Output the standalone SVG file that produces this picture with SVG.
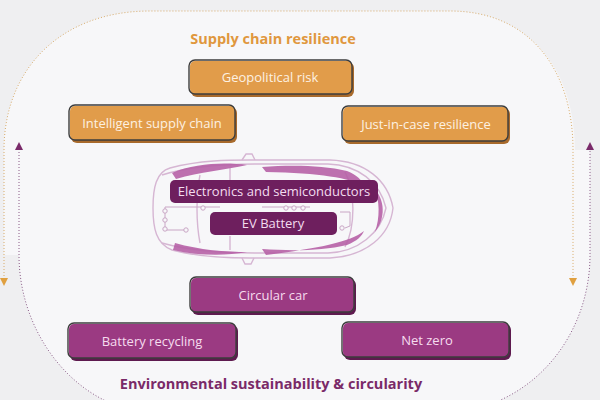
<svg xmlns="http://www.w3.org/2000/svg" width="600" height="400" viewBox="0 0 600 400">
<defs>
<style>
.title{font-family:"Open Sans","Liberation Sans",sans-serif;font-weight:700;font-size:14.5px;text-anchor:middle}
.lbl{font-family:"Open Sans","Liberation Sans",sans-serif;font-size:13px;text-anchor:middle}
.or .sh{fill:#a86a2c}
.or .fl{fill:#e19c4a}
.or text{fill:#fdf1e2}
.pu .sh{fill:#5e1a4f}
.pu .fl{fill:#9b3a82}
.pu text{fill:#f6dcef}
.ol{fill:none;stroke:#3d3d3d;stroke-width:1.4}
.dk{fill:#6e1f5e}
.dk text{fill:#f3dcef}
.car{fill:none;stroke:#d6b6d3;stroke-width:1.4}
.acc{fill:#b660a6;opacity:0.9}
.circ{fill:none;stroke:#c9a6c5;stroke-width:1}
.dot{fill:#f7f7f9;stroke:#c9a6c5;stroke-width:1}
</style>
<marker id="ao" markerWidth="8" markerHeight="8" refX="4" refY="4" orient="auto-start-reverse" markerUnits="userSpaceOnUse">
<path d="M0,0 L8,4 L0,8 Z" fill="#e0a040"/>
</marker>
<marker id="ap" markerWidth="8" markerHeight="8" refX="4" refY="4" orient="auto-start-reverse" markerUnits="userSpaceOnUse">
<path d="M0,0 L8,4 L0,8 Z" fill="#7a2a6a"/>
</marker>
</defs>
<rect width="600" height="400" fill="#efeff1"/>
<path d="M4,150 C4,70 60,11 150,11 L450,11 C530,11 575,70 575,150 L590,150 L590,255 C590,330 540,400 460,412 L140,412 C70,400 19,330 19,255 L4,255 Z" fill="#f7f7f9"/>
<g id="connectors">
<path d="M4,282 L4,150 C4,70 60,11 150,11 L450,11 C530,11 573,70 573,150 L573,282" fill="none" stroke="#d8ab6a" stroke-width="1" stroke-dasharray="1 2" marker-start="url(#ao)" marker-end="url(#ao)"/>
<path d="M19,146 L19,255 C19,330 70,400 140,412 L460,412 C540,400 590,330 590,255 L590,146" fill="none" stroke="#8a5a86" stroke-width="1" stroke-dasharray="1 2" marker-start="url(#ap)" marker-end="url(#ap)"/>
</g>
<text class="title" x="273" y="44" fill="#e0973e">Supply chain resilience</text>
<text class="title" x="271" y="389" fill="#7a2a68">Environmental sustainability &amp; circularity</text>
<g id="car">
<path class="car" d="M170,168 C200,160 230,160 250,160 L330,160 C365,161 388,180 393,208 C390,236 366,256 330,258 L250,258 C228,258 198,257 172,250 C156,244 153,228 153,208 C153,188 156,172 170,168 Z"/>
<path class="car" d="M162,175 C190,166 225,164 255,164 L328,164 C358,165 380,182 386,208 C381,233 358,252 328,253 L255,253 C225,253 190,251 162,243"/>
<path class="car" d="M242,160 L246,154 L252,154 L255,160 M242,258 L245,264 L251,264 L254,258"/>
<path class="car" d="M200,175 C196,195 196,222 200,243 M345,172 C355,190 356,226 345,247 M230,168 L230,180 M230,236 L230,250"/>
<path class="acc" d="M172,173 C195,163 225,162 247,165 C225,170 200,172 176,179 Z"/>
<path class="acc" d="M262,167 C290,165 322,165 347,171 C357,175 362,180 364,186 C350,178 320,173 266,172 Z"/>
<path class="acc" d="M175,243 C200,250 225,252 247,252 C225,256 200,256 173,250 Z"/>
<path class="acc" d="M262,249 C290,251 322,251 347,245 C357,241 362,236 364,231 C350,242 320,248 266,255 Z"/>
<path class="acc" d="M374,188 C385,200 386,218 375,232 C380,218 380,200 374,188 Z"/>
<path class="circ" d="M165,207 L220,207 M165,207 L165,230 L185,230 M262,207 L310,207 M340,212 L350,212 L350,226 L345,228"/>
<circle class="dot" cx="165" cy="211" r="2.2"/>
<circle class="dot" cx="165" cy="220" r="2.2"/>
<circle class="dot" cx="165" cy="229" r="2.2"/>
<circle class="dot" cx="186" cy="230" r="2.2"/>
<circle class="dot" cx="203" cy="208" r="2.2"/>
<circle class="dot" cx="286" cy="208" r="2.2"/>
<circle class="dot" cx="294" cy="208" r="2.2"/>
<circle class="dot" cx="303" cy="208" r="2.2"/>
<circle class="dot" cx="342" cy="228" r="2.2"/>
</g>
<g id="node-electronics" class="dk">
<rect x="170" y="180" width="208" height="23" rx="5"/>
<text class="lbl" x="274" y="196">Electronics and semiconductors</text>
</g>
<g id="node-ev-battery" class="dk">
<rect x="210" y="212" width="127" height="23" rx="5"/>
<text class="lbl" x="273" y="228">EV Battery</text>
</g>
<g id="node-geopolitical" class="or">
<rect class="sh" x="191" y="62" width="163" height="35" rx="6"/>
<rect class="fl" x="190" y="61" width="162" height="33" rx="5"/>
<rect class="ol" x="189" y="60" width="163" height="34" rx="6"/>
<text x="270" y="82" class="lbl">Geopolitical risk</text>
</g>
<g id="node-intelligent" class="or">
<rect class="sh" x="71" y="107" width="166" height="36" rx="6"/>
<rect class="fl" x="70" y="106" width="165" height="34" rx="5"/>
<rect class="ol" x="69" y="105" width="166" height="35" rx="6"/>
<text x="152" y="128" class="lbl">Intelligent supply chain</text>
</g>
<g id="node-justincase" class="or">
<rect class="sh" x="344" y="108" width="166" height="36" rx="6"/>
<rect class="fl" x="343" y="107" width="165" height="34" rx="5"/>
<rect class="ol" x="342" y="106" width="166" height="35" rx="6"/>
<text x="426" y="129" class="lbl">Just-in-case resilience</text>
</g>
<g id="node-circular" class="pu">
<rect class="sh" x="192" y="279" width="164" height="36" rx="6"/>
<rect class="fl" x="191" y="278" width="163" height="34" rx="5"/>
<rect class="ol" x="190" y="277" width="164" height="35" rx="6"/>
<text x="273" y="300" class="lbl">Circular car</text>
</g>
<g id="node-battery-recycling" class="pu">
<rect class="sh" x="70" y="325" width="168" height="36" rx="6"/>
<rect class="fl" x="69" y="324" width="167" height="34" rx="5"/>
<rect class="ol" x="68" y="323" width="168" height="35" rx="6"/>
<text x="152" y="346" class="lbl">Battery recycling</text>
</g>
<g id="node-net-zero" class="pu">
<rect class="sh" x="344" y="324" width="167" height="36" rx="6"/>
<rect class="fl" x="343" y="323" width="166" height="34" rx="5"/>
<rect class="ol" x="342" y="322" width="167" height="35" rx="6"/>
<text x="427" y="345" class="lbl">Net zero</text>
</g>
</svg>
